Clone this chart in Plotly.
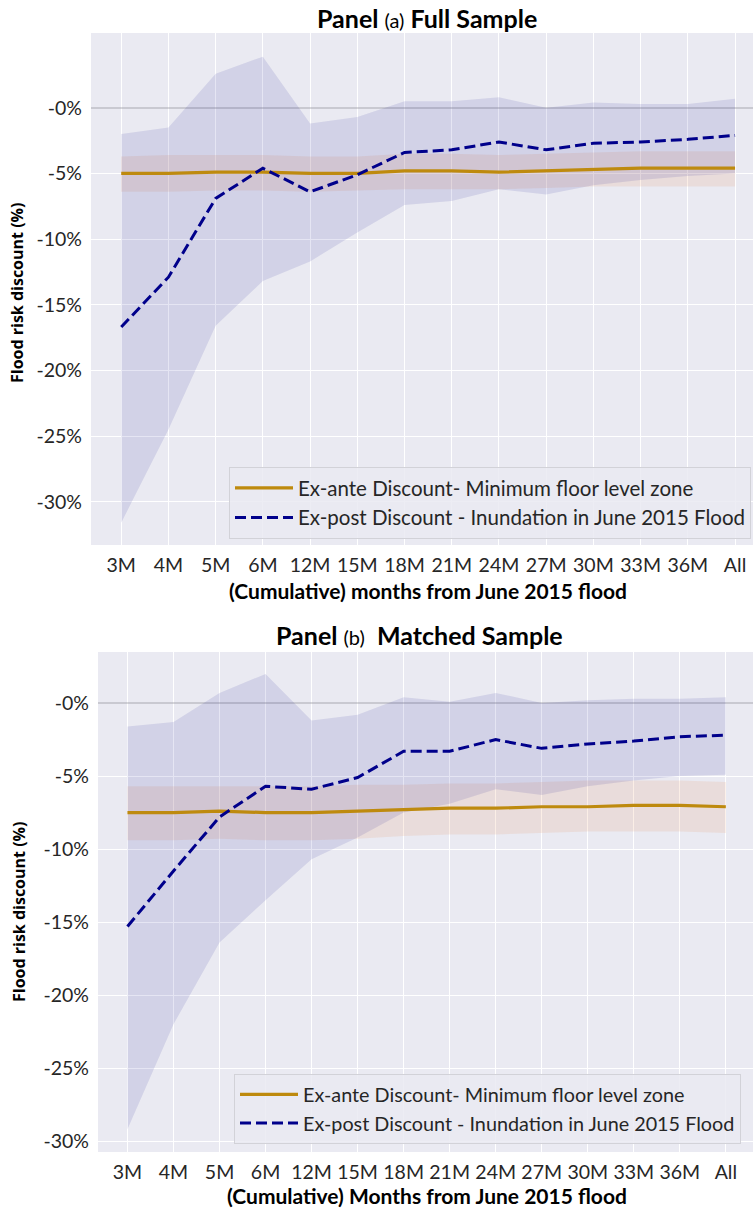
import plotly.graph_objects as go

months = ["3M", "4M", "5M", "6M", "12M", "15M", "18M", "21M", "24M", "27M", "30M", "33M", "36M", "All"]

# Panel (a) Full sample
ante_a = [-5.0, -5.0, -4.9, -4.9, -5.0, -5.0, -4.8, -4.8, -4.9, -4.8, -4.7, -4.6, -4.6, -4.6]
ante_a_lo = [-6.4, -6.4, -6.3, -6.3, -6.4, -6.3, -6.2, -6.2, -6.2, -6.1, -6.0, -6.0, -6.0, -6.0]
ante_a_hi = [-3.7, -3.6, -3.6, -3.6, -3.7, -3.7, -3.5, -3.5, -3.6, -3.5, -3.4, -3.3, -3.3, -3.3]
post_a = [-16.7, -12.9, -6.9, -4.6, -6.4, -5.1, -3.4, -3.2, -2.6, -3.2, -2.7, -2.6, -2.4, -2.1]
post_a_lo = [-31.6, -24.5, -16.6, -13.2, -11.7, -9.5, -7.4, -7.1, -6.2, -6.6, -5.9, -5.5, -5.2, -5.0]
post_a_hi = [-2.0, -1.5, 2.6, 3.9, -1.2, -0.7, 0.5, 0.5, 0.8, 0.0, 0.4, 0.3, 0.3, 0.7]

# Panel (b) Matched sample
ante_b = [-7.5, -7.5, -7.4, -7.5, -7.5, -7.4, -7.3, -7.2, -7.2, -7.1, -7.1, -7.0, -7.0, -7.1]
ante_b_lo = [-9.4, -9.4, -9.3, -9.4, -9.4, -9.3, -9.1, -9.0, -9.0, -8.9, -8.8, -8.8, -8.8, -8.9]
ante_b_hi = [-5.7, -5.7, -5.7, -5.7, -5.7, -5.6, -5.6, -5.5, -5.5, -5.4, -5.3, -5.3, -5.3, -5.4]
post_b = [-15.3, -11.5, -7.8, -5.7, -5.9, -5.1, -3.3, -3.3, -2.5, -3.1, -2.8, -2.6, -2.3, -2.2]
post_b_lo = [-29.2, -22.0, -16.4, -13.5, -10.7, -9.2, -7.5, -6.9, -5.9, -6.3, -5.7, -5.3, -5.0, -4.9]
post_b_hi = [-1.6, -1.3, 0.7, 2.0, -1.2, -0.8, 0.4, 0.1, 0.7, 0.0, 0.2, 0.3, 0.3, 0.4]

ytick_vals = [0, -5, -10, -15, -20, -25, -30]
ytick_text = ["-0%", "-5%", "-10%", "-15%", "-20%", "-25%", "-30%"]

legend_ante = "Ex-ante Discount- Minimum floor level zone"
legend_post = "Ex-post Discount - Inundation in June 2015 Flood"

GOLD = "#BE8A0E"
NAVY = "#00008B"
BAND_BLUE = "rgba(0,0,139,0.10)"
BAND_ORANGE = "rgba(230,150,100,0.16)"
BG = "#EAEAF2"
FONT = "Lato"

fig = go.Figure()


def add_panel(xa, ya, legend, ante, ante_lo, ante_hi, post, post_lo, post_hi):
    # orange band
    fig.add_trace(go.Scatter(x=months, y=ante_lo, mode="lines", line=dict(width=0),
                             showlegend=False, hoverinfo="skip", xaxis=xa, yaxis=ya))
    fig.add_trace(go.Scatter(x=months, y=ante_hi, mode="lines", line=dict(width=0),
                             fill="tonexty", fillcolor=BAND_ORANGE,
                             showlegend=False, hoverinfo="skip", xaxis=xa, yaxis=ya))
    # blue band
    fig.add_trace(go.Scatter(x=months, y=post_lo, mode="lines", line=dict(width=0),
                             showlegend=False, hoverinfo="skip", xaxis=xa, yaxis=ya))
    fig.add_trace(go.Scatter(x=months, y=post_hi, mode="lines", line=dict(width=0),
                             fill="tonexty", fillcolor=BAND_BLUE,
                             showlegend=False, hoverinfo="skip", xaxis=xa, yaxis=ya))
    fig.add_trace(go.Scatter(x=months, y=ante, mode="lines", name=legend_ante,
                             line=dict(color=GOLD, width=3.2), legend=legend,
                             xaxis=xa, yaxis=ya))
    fig.add_trace(go.Scatter(x=months, y=post, mode="lines", name=legend_post,
                             line=dict(color=NAVY, width=3, dash="11px,5px"), legend=legend,
                             xaxis=xa, yaxis=ya))


add_panel("x", "y", "legend", ante_a, ante_a_lo, ante_a_hi, post_a, post_a_lo, post_a_hi)
add_panel("x2", "y2", "legend2", ante_b, ante_b_lo, ante_b_hi, post_b, post_b_lo, post_b_hi)

W, H = 753, 1208

axis_common = dict(showgrid=True, gridcolor="white", gridwidth=1.3, showline=False,
                   ticks="", automargin=False,
                   tickfont=dict(family=FONT, size=19.5, color="#262626"))

legend_common = dict(xanchor="left", yanchor="top", traceorder="normal",
                     bgcolor="rgba(234,234,242,0.85)", bordercolor="#D2D2D8", borderwidth=1,
                     itemwidth=58)

fig.update_layout(
    width=W, height=H,
    margin=dict(l=0, r=0, t=0, b=0, autoexpand=False),
    paper_bgcolor="white",
    plot_bgcolor=BG,
    showlegend=True,
    xaxis=dict(domain=[91 / W, 1], range=[-0.64, 13.38], type="category", anchor="y",
               ticklabelstandoff=6, zeroline=False, **axis_common),
    yaxis=dict(domain=[1 - 545 / H, 1 - 33 / H], range=[-33.3, 5.7], anchor="x",
               tickvals=ytick_vals, ticktext=ytick_text, ticklabelstandoff=8,
               zeroline=True, zerolinecolor="rgba(140,140,150,0.35)", zerolinewidth=1.5,
               **axis_common),
    xaxis2=dict(domain=[98 / W, 1], range=[-0.64, 13.59], type="category", anchor="y2",
                ticklabelstandoff=6, zeroline=False, **axis_common),
    yaxis2=dict(domain=[1 - 1152 / H, 1 - 652 / H], range=[-30.75, 3.5], anchor="x2",
                tickvals=ytick_vals, ticktext=ytick_text, ticklabelstandoff=8,
                zeroline=True, zerolinecolor="rgba(140,140,150,0.35)", zerolinewidth=1.5,
                **axis_common),
    legend=dict(x=229 / W, y=1 - 467 / H,
                font=dict(family=FONT, size=20.5, color="#262626"), **legend_common),
    legend2=dict(x=234 / W, y=1 - 1074 / H,
                 font=dict(family=FONT, size=19.8, color="#262626"), **legend_common),
)

annotations = [
    dict(text="<b>Panel </b><span style='font-size:20px'>(a)</span><b> Full Sample</b>",
         x=427 / W, y=1 - 18 / H, font=dict(family=FONT, size=25, color="black")),
    dict(text="<b>Panel </b><span style='font-size:20px'>(b)</span><b>  Matched Sample</b>",
         x=420 / W, y=1 - 635 / H, font=dict(family=FONT, size=25, color="black")),
    dict(text="<b>(Cumulative) months from June 2015 flood</b>",
         x=428 / W, y=1 - 590 / H, font=dict(family=FONT, size=21, color="black")),
    dict(text="<b>(Cumulative) Months from June 2015 flood</b>",
         x=427 / W, y=1 - 1195 / H, font=dict(family=FONT, size=21, color="black")),
    dict(text="<b>Flood risk discount (%)</b>", textangle=-90,
         x=17 / W, y=1 - 293 / H, font=dict(family="Open Sans", size=16, color="black")),
    dict(text="<b>Flood risk discount (%)</b>", textangle=-90,
         x=19 / W, y=1 - 912 / H, font=dict(family="Open Sans", size=16, color="black")),
]
for a in annotations:
    a.update(xref="paper", yref="paper", showarrow=False, xanchor="center", yanchor="middle")
fig.update_layout(annotations=annotations)

fig.write_html("out.html", config={"displayModeBar": False},
               post_script="document.body.style.margin='0px';document.body.style.overflow='hidden';")
